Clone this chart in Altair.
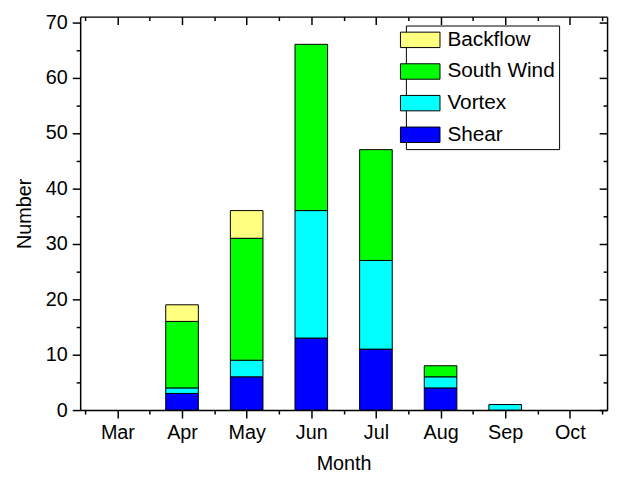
import json
import altair as alt
import pandas as pd

months = ["Mar", "Apr", "May", "Jun", "Jul", "Aug", "Sep", "Oct"]
shear = [0, 3, 6, 13, 11, 4, 0, 0]
vortex = [0, 1, 3, 23, 16, 2, 1, 0]
south_wind = [0, 12, 22, 30, 20, 2, 0, 0]
backflow = [0, 3, 5, 0, 0, 0, 0, 0]

series_names = ["Shear", "Vortex", "South Wind", "Backflow"]
series_values = [shear, vortex, south_wind, backflow]
legend_order = ["Backflow", "South Wind", "Vortex", "Shear"]
legend_colors = ["#FFFF80", "#00FF00", "#00FFFF", "#0000FF"]

y_domain = [0, 71]
y_major = [0, 10, 20, 30, 40, 50, 60, 70]
y_minor = [5, 15, 25, 35, 45, 55, 65]
x_major = list(range(len(months)))
x_minor = [i - 0.5 for i in range(len(months) + 1)]

rows = []
for k, (name, vals) in enumerate(zip(series_names, series_values)):
    for i, (m, v) in enumerate(zip(months, vals)):
        if v > 0:
            rows.append({"pos": i, "month": m, "series": name, "value": v, "order": k})
df = pd.DataFrame(rows)

FONT = "Liberation Sans"
xscale = alt.Scale(domain=[-0.5, len(months) - 0.5], nice=False, zero=False)
yscale = alt.Scale(domain=y_domain, nice=False)

common_axis = dict(grid=False, tickColor="black", tickWidth=1.5,
                   domainColor="black", domainWidth=1.5,
                   labelColor="black", labelFont=FONT, labelFontSize=20,
                   titleFont=FONT, titleFontSize=20, titleColor="black",
                   titleFontWeight="normal")

label_expr = json.dumps(months) + "[datum.value]"

bars = alt.Chart(df).mark_bar(size=33, stroke="black", strokeWidth=1).encode(
    x=alt.X("pos:Q", scale=xscale,
            axis=alt.Axis(orient="bottom", values=x_major, tickSize=8, labelExpr=label_expr,
                          labelPadding=5, title="Month", titlePadding=11, domain=True,
                          **common_axis)),
    y=alt.Y("value:Q", stack="zero", scale=yscale,
            axis=alt.Axis(orient="left", values=y_major, tickSize=8, labelPadding=5,
                          title="Number", titlePadding=11, domain=True, **common_axis)),
    color=alt.Color("series:N", scale=alt.Scale(domain=legend_order, range=legend_colors),
                    legend=alt.Legend(title=None, orient="none", legendX=329.5, legendY=9,
                                      strokeColor="black", fillColor="white", padding=4,
                                      symbolType="M-2,-0.78H2V0.78H-2Z", symbolSize=400,
                                      symbolStrokeColor="black", symbolStrokeWidth=1,
                                      symbolOpacity=1, labelFont=FONT, labelFontSize=21,
                                      labelColor="black", labelOffset=17, rowPadding=10)),
    order=alt.Order("order:Q"),
)


def tick_layer(xorient, xvals, xsize, xoff, yorient, yvals, ysize, yoff, domain=False, ticks=True):
    return alt.Chart(df).mark_point(opacity=0).encode(
        x=alt.X("pos:Q", scale=xscale,
                axis=alt.Axis(orient=xorient, values=xvals, tickSize=xsize, offset=xoff,
                              labels=False, title=None, domain=domain, ticks=ticks,
                              **common_axis)),
        y=alt.Y("value:Q", scale=yscale,
                axis=alt.Axis(orient=yorient, values=yvals, tickSize=ysize, offset=yoff,
                              labels=False, title=None, domain=domain, ticks=ticks,
                              **common_axis)),
    )


minor_outer = tick_layer("bottom", x_minor, 4, 0, "left", y_minor, 4, 0)
major_inner = tick_layer("top", x_major, 8, -8, "right", y_major, 8, -8)
minor_inner = tick_layer("top", x_minor, 4, -4, "right", y_minor, 4, -4)
frame = tick_layer("top", x_major, 1, 0, "right", y_major, 1, 0, domain=True, ticks=False)

chart = alt.layer(bars, minor_outer, major_inner, minor_inner, frame).resolve_axis(
    x="independent", y="independent"
).properties(
    width=533, height=398,
    autosize=alt.AutoSizeParams(type="none"),
    padding={"left": 73, "top": 6, "right": 5, "bottom": 68},
).configure_view(stroke="black", strokeWidth=1.5).configure(background="white")

chart.save("out.html", embed_options={"renderer": "svg", "actions": False})
